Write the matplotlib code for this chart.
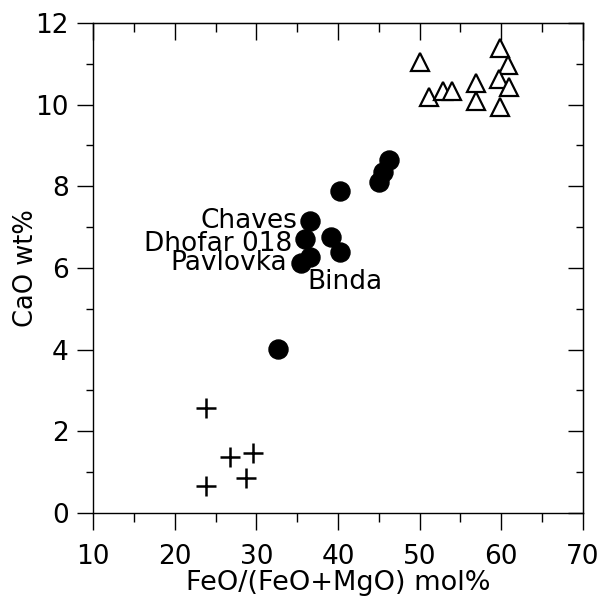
import matplotlib
matplotlib.use("Agg")
import matplotlib.pyplot as plt
from matplotlib.ticker import MultipleLocator

# Filled circles (labelled meteorites and others)
circle_x = [36.6, 36.0, 36.6, 35.5, 39.2, 40.2, 40.2, 45.0, 45.5, 46.2, 32.7]
circle_y = [7.15, 6.70, 6.28, 6.12, 6.77, 6.40, 7.88, 8.10, 8.34, 8.65, 4.01]

# Open triangles
tri_x = [50.0, 51.1, 52.9, 54.0, 56.9, 56.9, 59.8, 60.8, 59.7, 60.9, 59.8]
tri_y = [11.05, 10.20, 10.34, 10.34, 10.52, 10.10, 11.38, 10.97, 10.62, 10.44, 9.95]

# Plus signs
plus_x = [23.8, 26.8, 29.6, 28.7, 23.8]
plus_y = [2.56, 1.38, 1.46, 0.85, 0.66]

# Point labels: (text, x, y, ha)
labels = [("Chaves", 36.6, 7.15, "right"),
          ("Dhofar 018", 36.0, 6.70, "right"),
          ("Pavlovka", 35.5, 6.12, "right"),
          ("Binda", 40.2, 6.40, "left")]

plt.rcParams["font.family"] = ["DejaVu Sans"]

fig = plt.figure(figsize=(6.02, 5.96), dpi=100)
ax = fig.add_axes([0.1545, 0.1393, 0.8139, 0.8221])

ax.plot(circle_x, circle_y, "o", color="black", markersize=13.7, zorder=3)
ax.plot(tri_x, tri_y, "^", markerfacecolor="white", markeredgecolor="black",
        markersize=12.5, markeredgewidth=1.6, zorder=3)
ax.plot(plus_x, plus_y, "+", color="black", markersize=14.5,
        markeredgewidth=1.8, zorder=3)

offsets = {"Chaves": (-13, -7), "Dhofar 018": (-13, -12),
           "Pavlovka": (-14, -7), "Binda": (-32, -37)}
for text, x, y, ha in labels:
    ax.annotate(text, (x, y), xytext=offsets[text], textcoords="offset pixels",
                ha=ha, va="baseline", fontsize=19)

ax.set_xlim(10, 70)
ax.set_ylim(0, 12)
ax.xaxis.set_major_locator(MultipleLocator(10))
ax.xaxis.set_minor_locator(MultipleLocator(5))
ax.yaxis.set_major_locator(MultipleLocator(2))
ax.yaxis.set_minor_locator(MultipleLocator(1))

ax.tick_params(axis="x", which="major", direction="out", length=12, width=1,
               labelsize=19, pad=10.5)
ax.tick_params(axis="x", which="minor", direction="out", length=6.5, width=1)
ax.tick_params(axis="y", which="major", direction="out", length=11.5, width=1,
               labelsize=19, pad=6)
ax.tick_params(axis="y", which="minor", direction="out", length=5, width=1)

# top and right ticks point inward
top = ax.secondary_xaxis("top")
top.xaxis.set_major_locator(MultipleLocator(10))
top.xaxis.set_minor_locator(MultipleLocator(5))
top.tick_params(which="major", direction="in", length=12, width=1, labeltop=False)
top.tick_params(which="minor", direction="in", length=6.5, width=1)
right = ax.secondary_yaxis("right")
right.yaxis.set_major_locator(MultipleLocator(2))
right.yaxis.set_minor_locator(MultipleLocator(1))
right.tick_params(which="major", direction="in", length=11, width=1, labelright=False)
right.tick_params(which="minor", direction="in", length=5, width=1)

for sp in ax.spines.values():
    sp.set_linewidth(1)

ax.set_xlabel("FeO/(FeO+MgO) mol%", fontsize=19.5, labelpad=0)
ax.set_ylabel("CaO wt%", fontsize=18.5, labelpad=-3)

fig.savefig("out.png", dpi=100)
